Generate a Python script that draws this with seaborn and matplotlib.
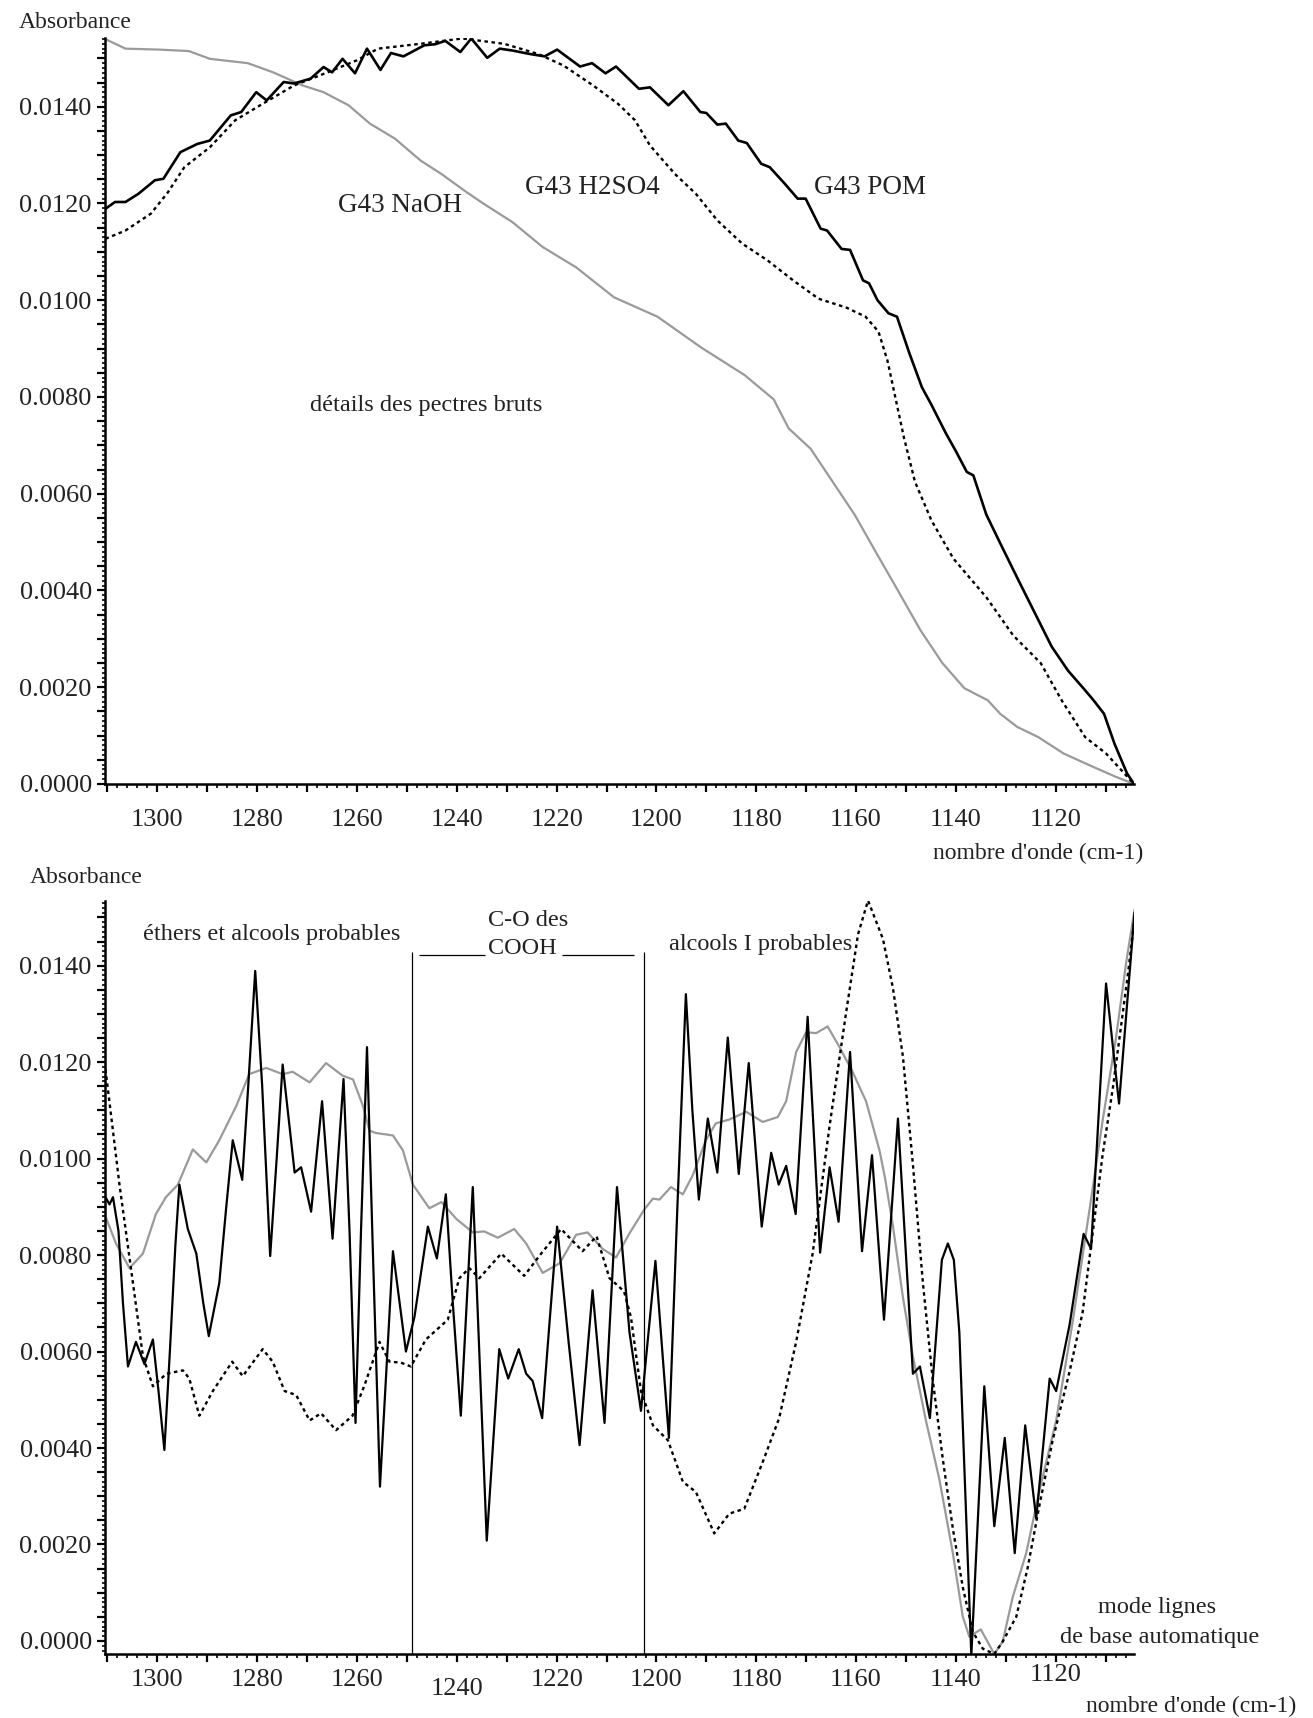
import matplotlib
matplotlib.use("Agg")
import matplotlib.pyplot as plt
import seaborn as sns
import pandas as pd
from matplotlib.ticker import MultipleLocator, FuncFormatter

# ---------------- data ----------------
# Top panel : raw spectra
top_pom_wn = [1310.4, 1308.5, 1306.4, 1303.8, 1300.5, 1298.8, 1295.4, 1292.0, 1289.5, 1285.3,
              1283.2, 1280.2, 1278.1, 1274.7, 1272.6, 1269.3, 1266.7, 1265.0, 1262.9, 1260.4,
              1258.0, 1255.3, 1253.2, 1250.7, 1246.5, 1244.4, 1242.3, 1239.3, 1237.1, 1233.9,
              1231.4, 1228.8, 1225.4, 1222.4, 1219.9, 1215.3, 1212.9, 1210.2, 1208.1, 1203.5,
              1201.3, 1197.6, 1194.6, 1191.2, 1190.0, 1187.8, 1186.1, 1183.6, 1181.9, 1179.0,
              1177.3, 1174.3, 1171.7, 1170.1, 1167.1, 1165.8, 1162.9, 1161.2, 1158.6, 1157.4,
              1155.7, 1153.5, 1151.8, 1149.3, 1146.8, 1144.9, 1142.0, 1140.0, 1137.8, 1136.5,
              1133.9, 1130.7, 1127.4, 1124.1, 1120.8, 1117.5, 1114.2, 1112.4, 1110.3, 1108.2,
              1105.7, 1104.3]
top_pom_abs = [0.01189, 0.01203, 0.01203, 0.01220, 0.01248, 0.01251, 0.01306, 0.01323, 0.01330, 0.01382,
               0.01389, 0.01430, 0.01413, 0.01451, 0.01448, 0.01458, 0.01482, 0.01471, 0.01499, 0.01469,
               0.01520, 0.01476, 0.01511, 0.01504, 0.01527, 0.01529, 0.01536, 0.01513, 0.01541, 0.01501,
               0.01520, 0.01516, 0.01509, 0.01504, 0.01518, 0.01483, 0.01490, 0.01469, 0.01483, 0.01437,
               0.01440, 0.01403, 0.01432, 0.01389, 0.01387, 0.01363, 0.01365, 0.01330, 0.01325, 0.01282,
               0.01275, 0.01241, 0.01210, 0.01210, 0.01148, 0.01144, 0.01106, 0.01104, 0.01041, 0.01035,
               0.01000, 0.00973, 0.00966, 0.00890, 0.00820, 0.00784, 0.00725, 0.00688, 0.00645, 0.00638,
               0.00557, 0.00489, 0.00420, 0.00352, 0.00284, 0.00234, 0.00195, 0.00173, 0.00145, 0.00083,
               0.00022, 0.00000]

top_h2so4_wn = [1310.4, 1306.4, 1301.3, 1297.9, 1294.6, 1289.5, 1284.4, 1279.4, 1272.6, 1265.9,
                1260.0, 1255.8, 1247.3, 1238.9, 1230.5, 1223.7, 1218.6, 1212.7, 1207.7, 1204.3,
                1201.3, 1196.3, 1192.1, 1187.8, 1182.8, 1177.7, 1172.6, 1167.5, 1162.0, 1158.1,
                1155.5, 1153.7, 1150.4, 1148.2, 1144.9, 1140.5, 1133.9, 1128.5, 1123.0, 1118.8,
                1114.1, 1109.9, 1107.4, 1104.3]
top_h2so4_abs = [0.01127, 0.01144, 0.01179, 0.01223, 0.01275, 0.01316, 0.01372, 0.01403, 0.01444, 0.01471,
                 0.01496, 0.01520, 0.01530, 0.01541, 0.01530, 0.01509, 0.01485, 0.01444, 0.01406, 0.01372,
                 0.01320, 0.01261, 0.01220, 0.01165, 0.01117, 0.01082, 0.01041, 0.01003, 0.00985, 0.00966,
                 0.00935, 0.00875, 0.00716, 0.00625, 0.00545, 0.00466, 0.00386, 0.00307, 0.00250, 0.00173,
                 0.00097, 0.00063, 0.00035, 0.00000]

top_naoh_wn = [1310.5, 1306.4, 1299.6, 1293.7, 1289.5, 1281.9, 1276.8, 1270.9, 1266.7, 1261.7,
               1257.4, 1252.4, 1247.3, 1243.1, 1238.0, 1234.7, 1228.8, 1222.8, 1216.1, 1208.5,
               1199.8, 1191.0, 1182.3, 1176.5, 1173.5, 1169.1, 1164.7, 1160.3, 1155.9, 1151.5,
               1147.1, 1142.7, 1138.3, 1133.6, 1131.1, 1127.7, 1123.5, 1118.4, 1112.4, 1108.2,
               1104.3]
top_naoh_abs = [0.01540, 0.01520, 0.01518, 0.01515, 0.01499, 0.01490, 0.01471, 0.01444, 0.01430, 0.01403,
                0.01365, 0.01334, 0.01289, 0.01261, 0.01223, 0.01200, 0.01161, 0.01110, 0.01068, 0.01006,
                0.00966, 0.00902, 0.00845, 0.00795, 0.00735, 0.00693, 0.00625, 0.00557, 0.00477, 0.00398,
                0.00318, 0.00250, 0.00198, 0.00173, 0.00145, 0.00118, 0.00097, 0.00063, 0.00035, 0.00016,
                0.00000]

# Bottom panel : automatic baseline mode
bot_pom_wn = [1310.4, 1309.6, 1308.9, 1307.8, 1306.9, 1305.9, 1304.3, 1302.6, 1300.9, 1299.8,
              1298.6, 1297.5, 1296.4, 1295.6, 1293.9, 1292.2, 1290.8, 1289.7, 1287.6, 1286.2,
              1284.9, 1283.0, 1281.8, 1280.4, 1279.0, 1277.4, 1276.1, 1274.9, 1272.5, 1271.2,
              1269.2, 1267.0, 1264.9, 1262.7, 1261.5, 1260.3, 1259.2, 1258.0, 1256.8, 1255.4,
              1252.8, 1250.2, 1248.5, 1245.8, 1244.0, 1242.2, 1240.8, 1239.2, 1236.8, 1235.5,
              1234.0, 1231.5, 1229.7, 1227.6, 1226.1, 1224.8, 1222.9, 1221.5, 1219.9, 1217.6,
              1215.4, 1212.8, 1210.4, 1207.9, 1205.4, 1203.1, 1200.2, 1197.5, 1195.8, 1194.1,
              1192.8, 1191.5, 1189.7, 1187.8, 1185.7, 1183.5, 1181.5, 1178.9, 1177.0, 1175.5,
              1174.0, 1172.1, 1169.7, 1167.2, 1165.3, 1163.5, 1161.2, 1158.8, 1156.8, 1154.4,
              1151.6, 1148.6, 1147.2, 1145.2, 1142.8, 1141.6, 1140.4, 1139.3, 1136.9, 1134.3,
              1132.3, 1130.2, 1128.2, 1126.1, 1123.9, 1121.2, 1119.9, 1117.2, 1114.4, 1112.9,
              1109.9, 1107.3, 1104.2]
bot_pom_abs = [0.00920, 0.00905, 0.00920, 0.00850, 0.00700, 0.00569, 0.00620, 0.00574, 0.00625, 0.00520,
               0.00396, 0.00600, 0.00820, 0.00946, 0.00854, 0.00803, 0.00700, 0.00632, 0.00742, 0.00900,
               0.01038, 0.00956, 0.01150, 0.01389, 0.01150, 0.00798, 0.01000, 0.01195, 0.00971, 0.00982,
               0.00890, 0.01119, 0.00834, 0.01165, 0.00850, 0.00452, 0.00850, 0.01231, 0.00800, 0.00320,
               0.00808, 0.00600, 0.00671, 0.00859, 0.00793, 0.00926, 0.00700, 0.00467, 0.00941, 0.00600,
               0.00208, 0.00605, 0.00544, 0.00605, 0.00554, 0.00539, 0.00462, 0.00650, 0.00859, 0.00620,
               0.00406, 0.00727, 0.00452, 0.00941, 0.00640, 0.00477, 0.00788, 0.00421, 0.00900, 0.01341,
               0.01100, 0.00915, 0.01083, 0.00971, 0.01251, 0.00968, 0.01198, 0.00859, 0.01012, 0.00946,
               0.00985, 0.00885, 0.01294, 0.00805, 0.00982, 0.00869, 0.01221, 0.00808, 0.01007, 0.00666,
               0.01083, 0.00554, 0.00569, 0.00462, 0.00790, 0.00824, 0.00790, 0.00640, -0.00030, 0.00528,
               0.00238, 0.00421, 0.00182, 0.00447, 0.00254, 0.00544, 0.00518, 0.00656, 0.00844, 0.00813,
               0.01363, 0.01114, 0.01510]

bot_h2so4_wn = [1310.4, 1307.6, 1304.9, 1302.9, 1300.9, 1298.2, 1294.9, 1293.6, 1291.6, 1288.9,
                1285.0, 1282.9, 1278.9, 1276.9, 1274.5, 1272.2, 1269.5, 1267.2, 1264.2, 1260.9,
                1258.5, 1255.5, 1253.5, 1251.2, 1249.2, 1246.2, 1241.8, 1239.5, 1237.5, 1235.5,
                1231.1, 1226.5, 1223.1, 1219.1, 1214.8, 1212.0, 1209.4, 1206.5, 1205.1, 1203.1,
                1200.7, 1197.7, 1194.7, 1192.1, 1188.4, 1185.4, 1182.4, 1178.7, 1175.4, 1172.0,
                1168.7, 1165.3, 1162.0, 1159.6, 1157.6, 1154.6, 1152.6, 1150.6, 1148.6, 1146.6,
                1144.6, 1142.6, 1140.6, 1138.6, 1136.6, 1134.6, 1132.3, 1130.6, 1127.9, 1125.6,
                1123.2, 1120.6, 1117.2, 1114.6, 1112.6, 1110.6, 1108.5, 1107.2, 1105.5, 1104.2]
bot_h2so4_abs = [0.01185, 0.00946, 0.00742, 0.00590, 0.00528, 0.00554, 0.00561, 0.00544, 0.00467, 0.00518,
                 0.00579, 0.00549, 0.00605, 0.00579, 0.00518, 0.00510, 0.00457, 0.00472, 0.00437, 0.00467,
                 0.00530, 0.00620, 0.00579, 0.00577, 0.00569, 0.00625, 0.00666, 0.00752, 0.00773, 0.00752,
                 0.00803, 0.00757, 0.00803, 0.00854, 0.00808, 0.00839, 0.00752, 0.00725, 0.00671, 0.00518,
                 0.00447, 0.00416, 0.00330, 0.00309, 0.00223, 0.00264, 0.00274, 0.00371, 0.00462, 0.00620,
                 0.00803, 0.01068, 0.01302, 0.01465, 0.01535, 0.01455, 0.01353, 0.01211, 0.00987, 0.00742,
                 0.00539, 0.00376, 0.00233, 0.00111, 0.00019, -0.00016, -0.00027, -0.00001, 0.00050, 0.00152,
                 0.00284, 0.00416, 0.00559, 0.00681, 0.00844, 0.01007, 0.01149, 0.01251, 0.01384, 0.01496]

bot_naoh_wn = [1310.4, 1308.3, 1305.6, 1302.9, 1300.3, 1298.3, 1295.9, 1292.9, 1290.2, 1287.6,
               1284.2, 1281.6, 1278.2, 1274.9, 1272.9, 1269.5, 1266.2, 1262.9, 1260.8, 1258.8,
               1257.5, 1256.2, 1252.8, 1250.8, 1248.8, 1245.5, 1243.1, 1240.1, 1236.8, 1234.5,
               1231.8, 1228.5, 1226.1, 1222.8, 1219.4, 1216.1, 1213.8, 1210.8, 1208.1, 1205.4,
               1202.4, 1200.7, 1199.4, 1197.1, 1194.7, 1192.7, 1190.1, 1188.1, 1185.4, 1182.0,
               1178.7, 1175.7, 1174.0, 1172.0, 1170.0, 1168.0, 1165.7, 1163.3, 1160.7, 1158.0,
               1155.3, 1154.2, 1152.6, 1150.6, 1148.6, 1146.0, 1143.3, 1140.6, 1138.6, 1137.3,
               1135.0, 1132.3, 1130.6, 1128.6, 1125.9, 1123.2, 1119.9, 1116.6, 1113.2, 1110.6,
               1107.9, 1105.9, 1104.2]
bot_naoh_abs = [0.00880, 0.00824, 0.00773, 0.00803, 0.00885, 0.00920, 0.00946, 0.01019, 0.00992, 0.01038,
                0.01109, 0.01175, 0.01188, 0.01175, 0.01180, 0.01158, 0.01198, 0.01172, 0.01164, 0.01109,
                0.01058, 0.01053, 0.01048, 0.01017, 0.00946, 0.00897, 0.00910, 0.00875, 0.00847, 0.00849,
                0.00836, 0.00854, 0.00824, 0.00763, 0.00783, 0.00842, 0.00847, 0.00813, 0.00795, 0.00845,
                0.00895, 0.00917, 0.00915, 0.00941, 0.00926, 0.00966, 0.01038, 0.01073, 0.01081, 0.01097,
                0.01076, 0.01086, 0.01119, 0.01221, 0.01262, 0.01260, 0.01274, 0.01231, 0.01180, 0.01119,
                0.01017, 0.00960, 0.00860, 0.00712, 0.00590, 0.00457, 0.00335, 0.00182, 0.00050, 0.00009,
                0.00024, -0.00027, -0.00001, 0.00091, 0.00182, 0.00314, 0.00457, 0.00661, 0.00895, 0.01078,
                0.01251, 0.01404, 0.01516]

x_label_step = 20
y_label_step = 0.002

# ---------------- styling ----------------
sns.set_theme(style="white")
plt.rcParams['font.family'] = ['Liberation Serif', 'DejaVu Serif']
plt.rcParams['axes.unicode_minus'] = False
plt.rcParams['lines.solid_joinstyle'] = 'round'

W, H = 1313, 1718
fig = plt.figure(figsize=(W / 100, H / 100), dpi=100)
fig.patch.set_facecolor('white')

def px_axes(left, top, right, bottom):
    return fig.add_axes([left / W, 1 - bottom / H, (right - left) / W, (bottom - top) / H])

ax1 = px_axes(105, 38, 1134, 784)
ax2 = px_axes(105, 901, 1134, 1654)

GRAY = '#9a9a9a'
BLACK = '#000000'
DOT = (0, (1.5, 1.5))

def draw(ax, wn, ab, color, ls, lw):
    df = pd.DataFrame({'wn': wn, 'abs': ab})
    sns.lineplot(data=df, x='wn', y='abs', ax=ax, color=color, linestyle=ls,
                 linewidth=lw, estimator=None, sort=False, clip_on=True)

draw(ax1, top_naoh_wn, top_naoh_abs, GRAY, '-', 1.6)
draw(ax1, top_h2so4_wn, top_h2so4_abs, BLACK, DOT, 1.7)
draw(ax1, top_pom_wn, top_pom_abs, BLACK, '-', 1.9)

draw(ax2, bot_naoh_wn, bot_naoh_abs, GRAY, '-', 1.6)
draw(ax2, bot_h2so4_wn, bot_h2so4_abs, BLACK, DOT, 1.7)
draw(ax2, bot_pom_wn, bot_pom_abs, BLACK, '-', 1.6)

ax1.set_xlim(1310.5, 1104.3)
ax2.set_xlim(1310.5, 1104.3)
ax1.set_ylim(0.0, 0.01542)
ax2.set_ylim(-0.00027, 0.01534)

TICKFS = 19

def xfmt(v, p):
    iv = int(round(v))
    return str(iv) if iv % x_label_step == 0 else ''

def yfmt(v, p):
    k = v / y_label_step
    if abs(k - round(k)) < 1e-6:
        return f"{abs(v):.4f}" if abs(v) < 1e-9 else f"{v:.4f}"
    return ''

XPAD = {ax1: 12.0, ax2: 4.5}
for ax in (ax1, ax2):
    ax.set_xlabel('')
    ax.set_ylabel('')
    ax.grid(False)
    for s in ('top', 'right'):
        ax.spines[s].set_visible(False)
    for s in ('left', 'bottom'):
        ax.spines[s].set_linewidth(1.8)
        ax.spines[s].set_color('black')
    ax.xaxis.set_major_locator(MultipleLocator(10))
    ax.xaxis.set_minor_locator(MultipleLocator(2))
    ax.yaxis.set_major_locator(MultipleLocator(0.0005))
    ax.yaxis.set_minor_locator(MultipleLocator(0.0001))
    ax.xaxis.set_major_formatter(FuncFormatter(xfmt))
    ax.yaxis.set_major_formatter(FuncFormatter(yfmt))
    ax.tick_params(axis='x', which='major', direction='out', length=6, width=1.6,
                   labelsize=TICKFS, pad=XPAD[ax], colors='black', labelcolor='#222222', bottom=True)
    ax.tick_params(axis='x', which='minor', direction='out', length=3, width=1.4, bottom=True)
    ax.tick_params(axis='y', which='major', direction='out', length=5.5, width=1.6,
                   labelsize=TICKFS, pad=4, colors='black', labelcolor='#222222', left=True)
    ax.tick_params(axis='y', which='minor', direction='out', length=2.5, width=1.4, left=True)

# in the lower panel, 1240 sits a little lower and 1120 a little higher
shifted = {1240: -7.0, 1120: 3.0}
def xfmt_bottom(v, p):
    iv = int(round(v))
    if iv in shifted:
        return ''
    return xfmt(v, p)
ax2.xaxis.set_major_formatter(FuncFormatter(xfmt_bottom))
for val, dy in shifted.items():
    ax2.annotate(str(val), xy=(val, 0), xycoords=('data', 'axes fraction'),
                 xytext=(0, -(6 + XPAD[ax2]) + dy), textcoords='offset points',
                 ha='center', va='top', fontsize=TICKFS, color='#222222')

TXT = '#222222'
def ftext(x, y, s, size, ha='center', va='center'):
    fig.text(x / W, 1 - y / H, s, fontsize=size, ha=ha, va=va, color=TXT)

# axis titles
ftext(19, 23, 'Absorbance', 17, ha='left')
ftext(30, 877, 'Absorbance', 17, ha='left')
ftext(1143, 853, "nombre d'onde (cm-1)", 17, ha='right')
ftext(1296, 1706, "nombre d'onde (cm-1)", 17, ha='right')

# top panel annotations
ftext(400, 206, 'G43 NaOH', 19.5)
ftext(592, 188, 'G43 H2SO4', 19.5)
ftext(870, 188, 'G43 POM', 19.5)
ftext(426, 405, 'détails des pectres bruts', 17.5)

# bottom panel annotations
ftext(272, 934, 'éthers et alcools probables', 17.5)
ftext(528, 920, 'C-O des', 17.5)
ftext(522, 949, 'COOH', 17.5)
ftext(761, 944, 'alcools I probables', 17.5)
ftext(1157, 1608, 'mode lignes', 17.5)
ftext(1160, 1637, 'de base automatique', 17.5)

# region markers
region_bounds = [1249.0, 1202.5]
ax2.vlines(region_bounds, -0.00027, 0.01428, color='black', linewidth=0.9)
ax2.hlines([0.014225, 0.014225], [1247.5, 1218.9], [1234.3, 1204.4], color='black', linewidth=0.9)

fig.savefig('out.png', dpi=100, facecolor='white')
